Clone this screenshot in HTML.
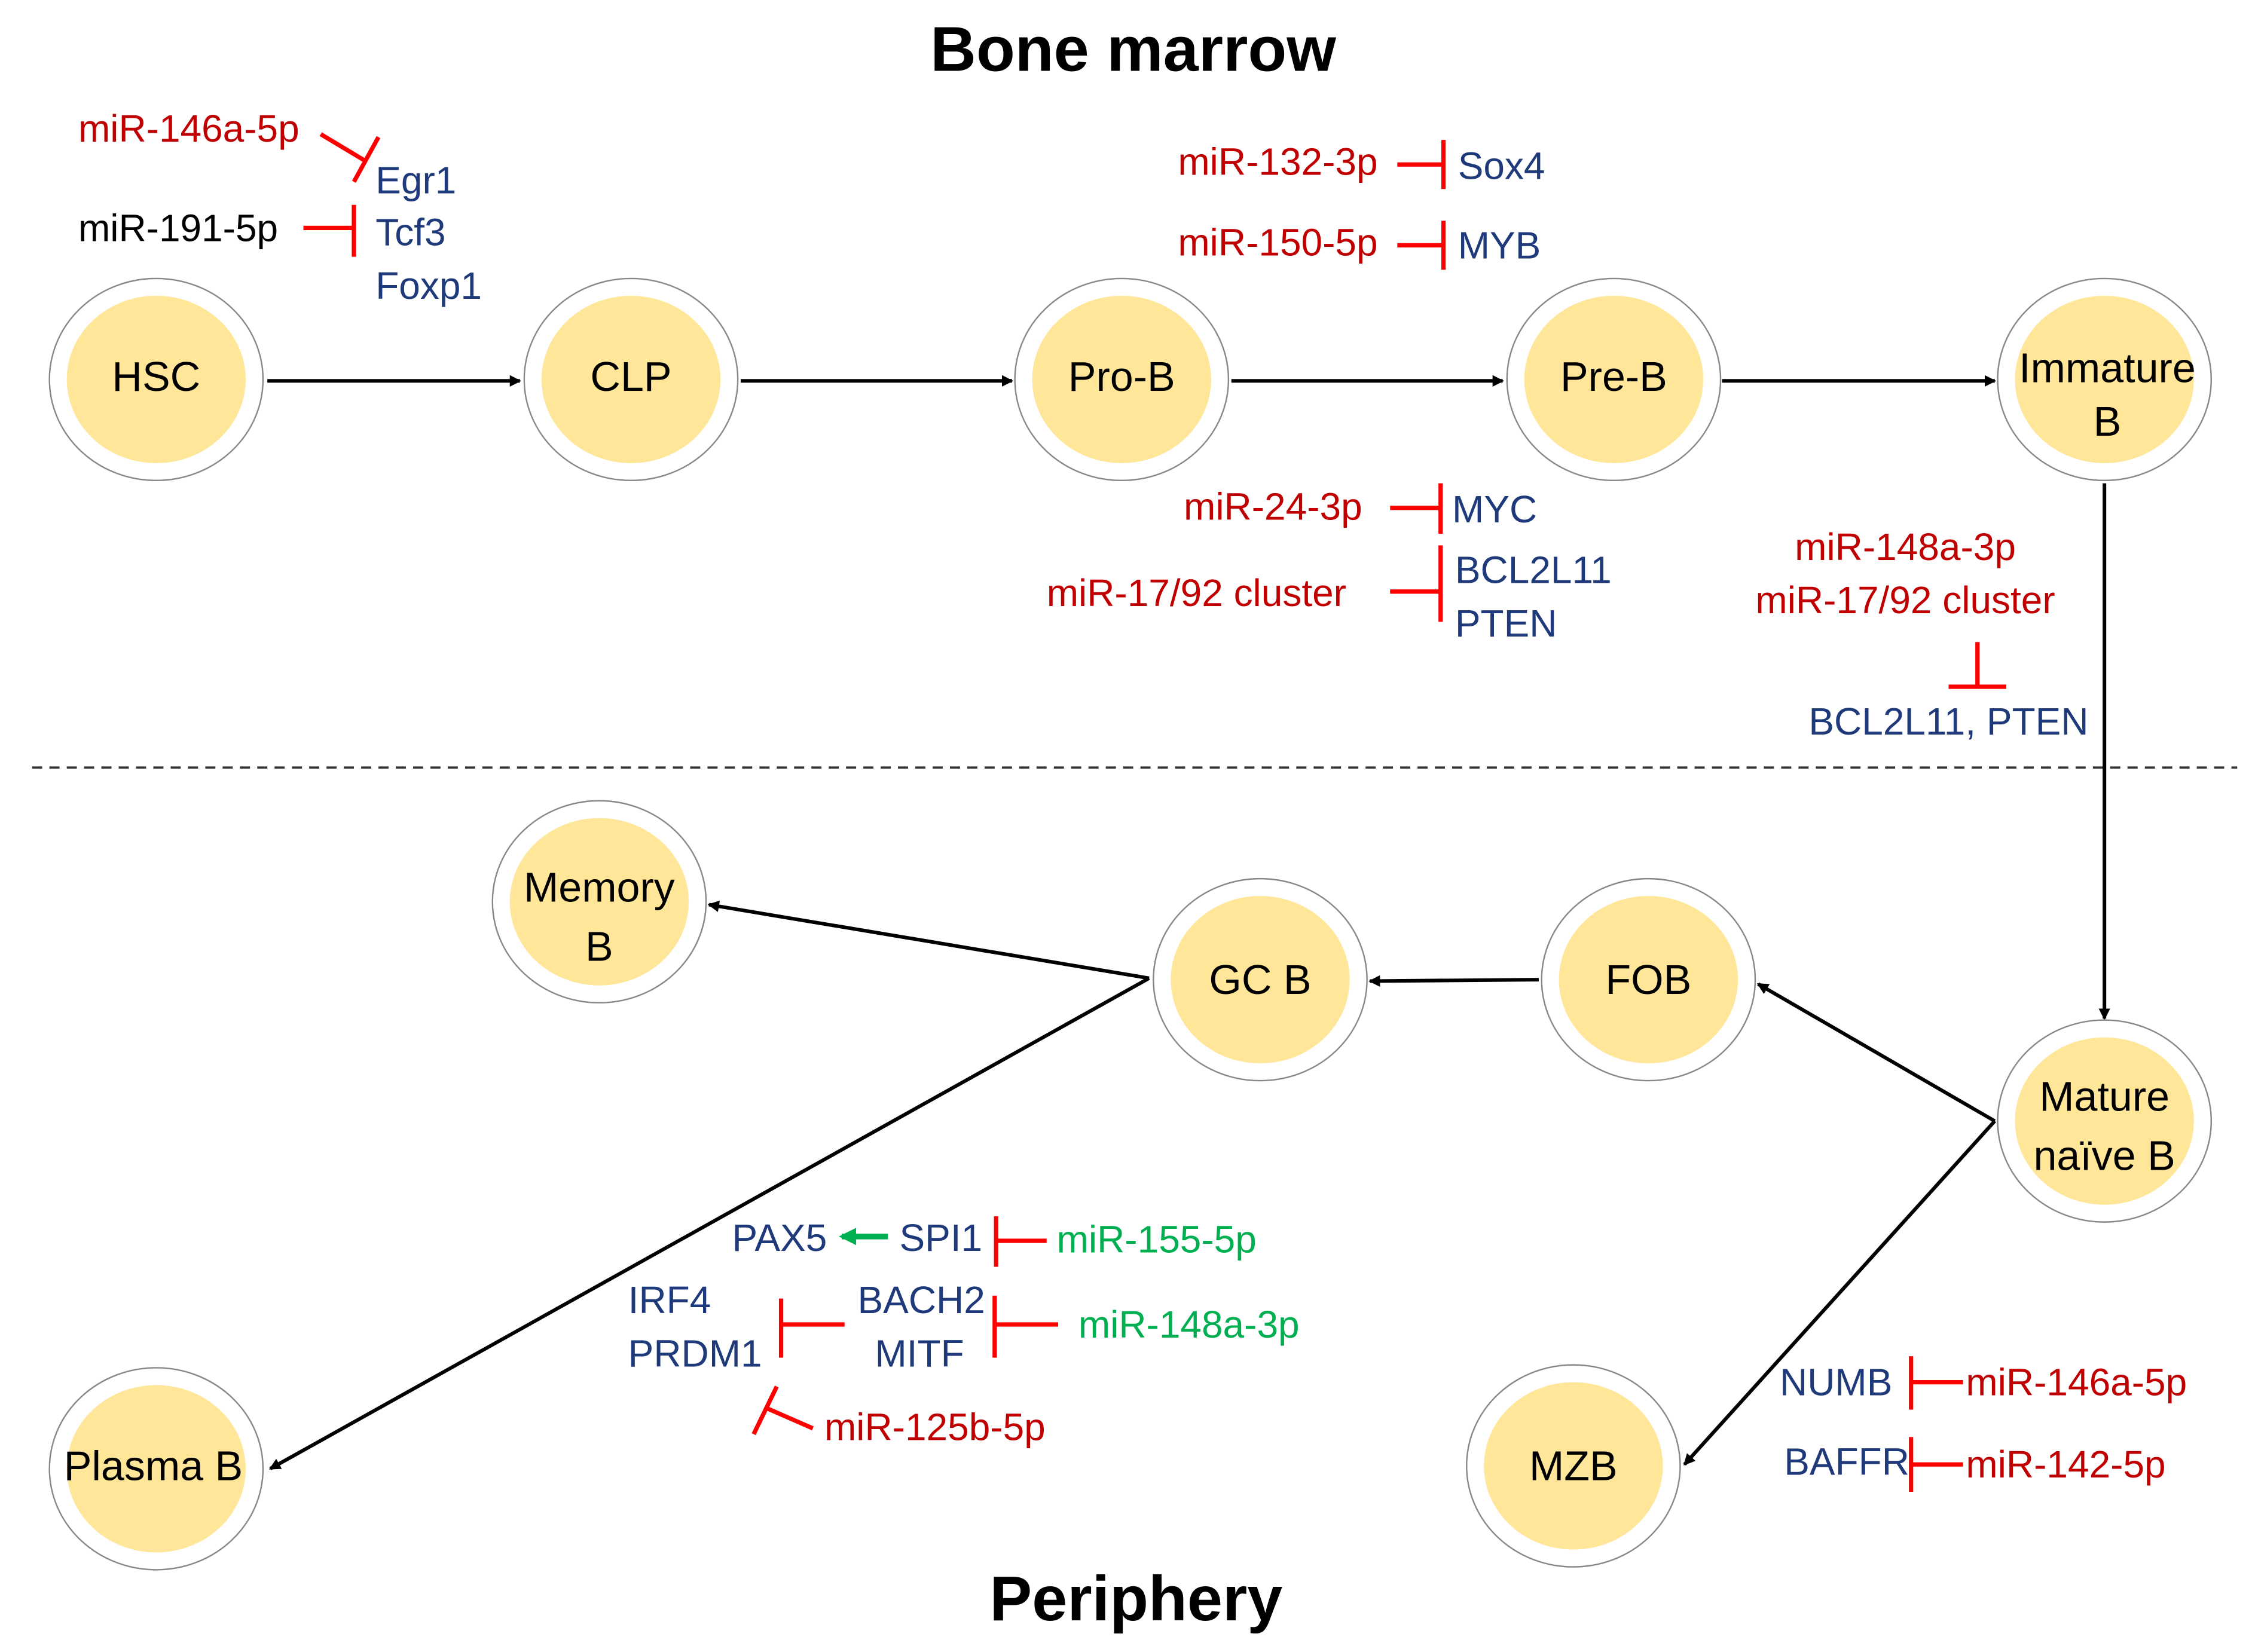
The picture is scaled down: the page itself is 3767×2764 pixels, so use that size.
<!DOCTYPE html>
<html><head><meta charset="utf-8"><style>
html,body{margin:0;padding:0;background:#fff;}
svg{display:block;}
text{font-family:"Liberation Sans",sans-serif;dominant-baseline:central;}
.r{fill:#C00000;font-size:26.5px;}
.b{fill:#1F3A7A;font-size:26.5px;}
.g{fill:#00B050;font-size:26.5px;}
.k{fill:#000;font-size:26.5px;}
.n{fill:#000;font-size:29px;text-anchor:middle;}
.t{fill:#000;font-size:44px;font-weight:bold;text-anchor:middle;}
.inh{stroke:#FF0000;stroke-width:3;fill:none;}
.ar{stroke:#000;stroke-width:2.5;fill:none;marker-end:url(#ah);}
</style></head><body>
<svg width="3767" height="2764" viewBox="0 0 1560 1145" xmlns="http://www.w3.org/2000/svg">
<defs>
<marker id="ah" markerWidth="8" markerHeight="8" refX="7" refY="4" orient="auto" markerUnits="userSpaceOnUse"><path d="M0,0 L8,4 L0,8 z" fill="#000"/></marker>
<marker id="gh" markerWidth="12" markerHeight="12" refX="10" refY="6" orient="auto" markerUnits="userSpaceOnUse"><path d="M0,0 L12,6 L0,12 z" fill="#00B050"/></marker>
<g id="node"><ellipse cx="0" cy="0" rx="74" ry="70" fill="#fff" stroke="#888" stroke-width="1"/><ellipse cx="0" cy="0" rx="62" ry="58" fill="#FFE699"/></g>
</defs>
<rect width="1560" height="1145" fill="#fff"/>
<text class="t" x="785" y="34">Bone marrow</text>
<text class="t" x="787" y="1108">Periphery</text>
<line x1="22" y1="532" x2="1550" y2="532" stroke="#333" stroke-width="1.5" stroke-dasharray="7,5"/>

<line class="ar" x1="185" y1="264" x2="360" y2="264"/>
<line class="ar" x1="513" y1="264" x2="701" y2="264"/>
<line class="ar" x1="853" y1="264" x2="1041" y2="264"/>
<line class="ar" x1="1193" y1="264" x2="1382" y2="264"/>
<line class="ar" x1="1458" y1="335" x2="1458" y2="706"/>
<line class="ar" x1="1066" y1="679" x2="949" y2="680"/>
<line class="ar" x1="1382" y1="777" x2="1218" y2="682"/>
<line class="ar" x1="1382" y1="777" x2="1167" y2="1015"/>
<line class="ar" x1="796" y1="678" x2="491" y2="627"/>
<line class="ar" x1="796" y1="678" x2="187" y2="1018"/>

<use href="#node" x="108" y="263"/><text class="n" x="108" y="261">HSC</text>
<use href="#node" x="437" y="263"/><text class="n" x="437" y="261">CLP</text>
<use href="#node" x="777" y="263"/><text class="n" x="777" y="261">Pro-B</text>
<use href="#node" x="1118" y="263"/><text class="n" x="1118" y="261">Pre-B</text>
<use href="#node" x="1458" y="263"/><text class="n" x="1460" y="255">Immature</text><text class="n" x="1460" y="292">B</text>
<use href="#node" x="415" y="625"/><text class="n" x="415" y="615">Memory</text><text class="n" x="415" y="656">B</text>
<use href="#node" x="873" y="679"/><text class="n" x="873" y="679">GC B</text>
<use href="#node" x="1142" y="679"/><text class="n" x="1142" y="679">FOB</text>
<use href="#node" x="1458" y="777"/><text class="n" x="1458" y="760">Mature</text><text class="n" x="1458" y="801">naïve B</text>
<use href="#node" x="1090" y="1016"/><text class="n" x="1090" y="1016">MZB</text>
<use href="#node" x="108" y="1018"/><text class="n" x="106" y="1016">Plasma B</text>

<text class="r" x="54" y="89">miR-146a-5p</text>
<line class="inh" x1="222" y1="93" x2="252" y2="111"/><line class="inh" x1="262" y1="95" x2="245" y2="126"/>
<text class="k" x="54" y="158">miR-191-5p</text>
<line class="inh" x1="210" y1="158" x2="245" y2="158"/><line class="inh" x1="245" y1="142" x2="245" y2="178"/>
<text class="b" x="260" y="125">Egr1</text>
<text class="b" x="260" y="161">Tcf3</text>
<text class="b" x="260" y="198">Foxp1</text>

<text class="r" x="816" y="112">miR-132-3p</text>
<line class="inh" x1="968" y1="114" x2="1000" y2="114"/><line class="inh" x1="1000" y1="97" x2="1000" y2="131"/>
<text class="b" x="1010" y="115">Sox4</text>
<text class="r" x="816" y="168">miR-150-5p</text>
<line class="inh" x1="968" y1="170" x2="1000" y2="170"/><line class="inh" x1="1000" y1="153" x2="1000" y2="187"/>
<text class="b" x="1010" y="170">MYB</text>
<text class="r" x="820" y="351">miR-24-3p</text>
<line class="inh" x1="963" y1="352" x2="998" y2="352"/><line class="inh" x1="998" y1="335" x2="998" y2="370"/>
<text class="b" x="1006" y="353">MYC</text>
<text class="r" x="725" y="411">miR-17/92 cluster</text>
<line class="inh" x1="963" y1="410" x2="998" y2="410"/><line class="inh" x1="998" y1="378" x2="998" y2="431"/>
<text class="b" x="1008" y="395">BCL2L11</text>
<text class="b" x="1008" y="432">PTEN</text>

<text class="r" x="1320" y="379" text-anchor="middle">miR-148a-3p</text>
<text class="r" x="1320" y="416" text-anchor="middle">miR-17/92 cluster</text>
<line class="inh" x1="1370" y1="445" x2="1370" y2="476"/><line class="inh" x1="1350" y1="476" x2="1390" y2="476"/>
<text class="b" x="1350" y="500" text-anchor="middle">BCL2L11, PTEN</text>

<text class="b" x="507" y="858">PAX5</text>
<line x1="615" y1="857" x2="583" y2="857" stroke="#00B050" stroke-width="4" marker-end="url(#gh)"/>
<text class="b" x="623" y="858">SPI1</text>
<line class="inh" x1="690" y1="843" x2="690" y2="878"/><line class="inh" x1="690" y1="860" x2="725" y2="860"/>
<text class="g" x="732" y="859">miR-155-5p</text>
<text class="b" x="435" y="901">IRF4</text>
<text class="b" x="435" y="938">PRDM1</text>
<line class="inh" x1="541" y1="900" x2="541" y2="941"/><line class="inh" x1="541" y1="918" x2="585" y2="918"/>
<text class="b" x="594" y="901">BACH2</text>
<text class="b" x="606" y="938">MITF</text>
<line class="inh" x1="689" y1="898" x2="689" y2="941"/><line class="inh" x1="689" y1="918" x2="733" y2="918"/>
<text class="g" x="747" y="918">miR-148a-3p</text>
<line class="inh" x1="563" y1="990" x2="531" y2="976"/><line class="inh" x1="522" y1="994" x2="538" y2="961"/>
<text class="r" x="571" y="989">miR-125b-5p</text>

<text class="b" x="1233" y="958">NUMB</text>
<line class="inh" x1="1324" y1="940" x2="1324" y2="977"/><line class="inh" x1="1324" y1="958" x2="1360" y2="958"/>
<text class="r" x="1362" y="958">miR-146a-5p</text>
<text class="b" x="1236" y="1013">BAFFR</text>
<line class="inh" x1="1324" y1="996" x2="1324" y2="1034"/><line class="inh" x1="1324" y1="1015" x2="1360" y2="1015"/>
<text class="r" x="1362" y="1015">miR-142-5p</text>
</svg>
</body></html>
